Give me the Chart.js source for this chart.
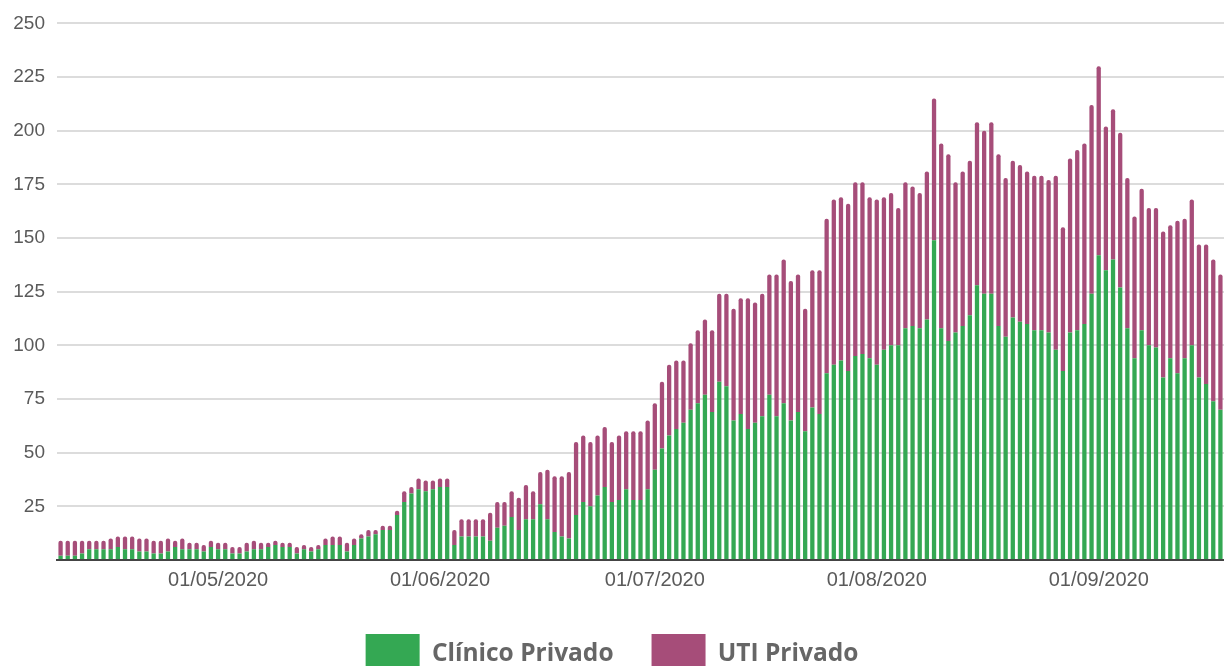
<!DOCTYPE html>
<html>
<head>
<meta charset="utf-8">
<script src="https://cdn.jsdelivr.net/npm/chart.js@4/dist/chart.umd.min.js"></script>
<style>
  html, body { margin: 0; padding: 0; background: #fff; overflow: hidden; }
  #wrap { width: 1224px; height: 684px; position: relative; }
</style>
</head>
<body>
<div id="wrap"><canvas id="c" width="1224" height="684"></canvas></div>
<script>
// ---- Data ----
const startDate = '2020-04-09';
const dayCount = 163;
const seriesNames = ['Clínico Privado', 'UTI Privado'];
const tickLabels = ['01/05/2020', '01/06/2020', '01/07/2020', '01/08/2020', '01/09/2020'];
const yTicks = [25, 50, 75, 100, 125, 150, 175, 200, 225, 250];

const clinico = [
  2,2,2,3,5,5,5,5,6,5, 5,4,4,3,3,4,6,5,5,5, 4,6,5,5,3,3,4,5,5,6,
  7,6,6,3,5,4,5,7,7,7, 4,7,10,11,12,14,14,21,27,31, 33,32,33,34,34,7,11,11,11,11,
  9,15,16,20,14,19,19,26,19,13, 11,10,21,27,25,30,34,27,28,33, 28,28,33,42,52,58,61,64,70,73,
  77,69,83,81,65,68,61,64,67,77, 67,73,65,69,60,71,68,87,91,93, 88,95,96,94,91,98,100,100,108,109,
  108,112,149,108,102,106,109,114,128,124, 124,109,104,113,111,110,107,107,106,98, 88,106,107,110,124,142,135,140,127,108,
  94,107,100,99,85,94,87,94,100,85, 82,74,70
];
const uti = [
  7,7,7,6,4,4,4,5,5,6, 6,6,6,6,6,6,3,5,3,3, 3,3,3,3,3,3,4,4,3,2,
  2,2,2,3,2,2,2,3,4,4, 4,3,2,3,2,2,2,2,5,3, 5,5,4,4,4,7,8,8,8,8,
  13,12,11,12,15,16,13,15,23,26, 28,31,34,31,30,28,28,28,30,27, 32,32,32,31,31,33,32,29,31,34,
  35,38,41,43,52,54,61,56,57,56, 66,67,65,64,57,64,67,72,77,76, 78,81,80,75,77,71,71,64,68,65,
  63,69,66,86,87,70,72,72,76,76, 80,80,74,73,73,71,72,72,71,81, 67,81,84,84,88,88,67,70,72,70,
  66,66,64,65,68,62,71,65,68,62, 65,66,63
];

// Category labels: one per day, dd/mm/yyyy
const categories = [];
(function () {
  const d = new Date(startDate + 'T00:00:00Z');
  for (let i = 0; i < dayCount; i++) {
    const dd = String(d.getUTCDate()).padStart(2, '0');
    const mm = String(d.getUTCMonth() + 1).padStart(2, '0');
    categories.push(dd + '/' + mm + '/' + d.getUTCFullYear());
    d.setUTCDate(d.getUTCDate() + 1);
  }
})();

const GREEN = '#34a853';
const MAGENTA = '#a64d79';
const GRID = '#dcdcdc';
const TEXT = '#5a5a5a';

const isMonthTick = (i) => tickLabels.indexOf(categories[i]) !== -1;

new Chart(document.getElementById('c'), {
  type: 'bar',
  data: {
    labels: categories,
    datasets: [
      { label: seriesNames[0], data: clinico, backgroundColor: GREEN, borderWidth: 0, borderRadius: 2,
        barPercentage: 0.6, categoryPercentage: 1.0 },
      { label: seriesNames[1], data: uti, backgroundColor: MAGENTA, borderWidth: 0, borderRadius: 2,
        barPercentage: 0.6, categoryPercentage: 1.0 }
    ]
  },
  options: {
    responsive: false,
    devicePixelRatio: 1,
    animation: false,
    layout: { padding: { top: 22, right: 0, bottom: 0, left: 0 } },
    plugins: {
      tooltip: { enabled: false },
      legend: {
        position: 'bottom',
        labels: {
          boxWidth: 54,
          boxHeight: 40,
          padding: 38,
          color: '#666666',
          font: { family: "'Open Sans', sans-serif", size: 24.5, weight: 'bold' }
        }
      }
    },
    scales: {
      x: {
        stacked: true,
        afterFit: (s) => { s.height = 36; },
        grid: {
          offset: false,
          drawTicks: false,
          lineWidth: 2,
          color: (ctx) => (ctx.type === 'tick' && isMonthTick(ctx.index)) ? GRID : 'rgba(0,0,0,0)'
        },
        border: { display: true, color: '#444', width: 2 },
        ticks: {
          autoSkip: false,
          maxRotation: 0,
          minRotation: 0,
          padding: 8,
          color: TEXT,
          font: { family: "'Liberation Sans', Arial, sans-serif", size: 20 },
          callback: function (value, index) {
            const lab = categories[index];
            return tickLabels.indexOf(lab) !== -1 ? lab : null;
          }
        }
      },
      y: {
        stacked: true,
        min: 0,
        max: 250,
        afterFit: (s) => { s.width = 57; },
        afterBuildTicks: (s) => { s.ticks = [{ value: 0 }].concat(yTicks.map(v => ({ value: v }))); },
        grid: {
          drawTicks: false,
          lineWidth: 2,
          color: (ctx) => (ctx.tick && ctx.tick.value === 0) ? '#444' : GRID
        },
        border: { display: false },
        ticks: {
          padding: 12,
          color: TEXT,
          font: { family: "'Liberation Sans', Arial, sans-serif", size: 19 },
          callback: (v) => (v === 0 ? '' : String(v))
        }
      }
    }
  }
});
</script>
</body>
</html>
